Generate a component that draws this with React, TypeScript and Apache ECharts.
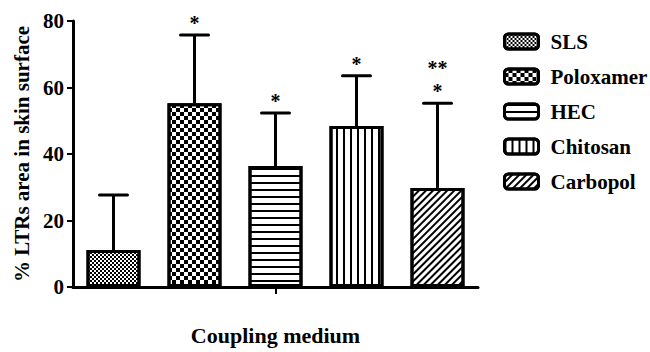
import React, { useEffect, useRef } from 'react';
import * as echarts from 'echarts';

const categories = ['SLS', 'Poloxamer', 'HEC', 'Chitosan', 'Carbopol'];
const means = [11.1, 55.3, 36.4, 48.4, 29.8];
const upperErrors = [27.7, 75.8, 52.3, 63.5, 55.3];
const sigFirst = ['', '*', '*', '*', '*'];
const sigSecond = ['', '', '', '', '**'];
const yMin = 0;
const yMax = 80;
const yInterval = 20;
const yName = '% LTRs area in skin surface';
const xName = 'Coupling medium';

const FONT = "'Liberation Serif', 'Times New Roman', serif";

const decals: any[] = [
  { symbol: 'rect', symbolSize: 1, dashArrayX: [[2, 2], [0, 2, 2, 0]], dashArrayY: [2, 0], color: '#000', backgroundColor: '#fff' },
  { symbol: 'rect', symbolSize: 1, dashArrayX: [[4, 4], [0, 4, 4, 0]], dashArrayY: [4, 0], color: '#000', backgroundColor: '#fff' },
  { symbol: 'rect', symbolSize: 1, dashArrayX: [1, 0], dashArrayY: [2, 5], color: '#000', backgroundColor: '#fff' },
  { symbol: 'rect', symbolSize: 1, dashArrayX: [2, 5], dashArrayY: [1, 0], color: '#000', backgroundColor: '#fff' },
  { symbol: 'rect', symbolSize: 1, dashArrayX: [1, 0], dashArrayY: [1.5, 3], rotation: -Math.PI / 4, color: '#000', backgroundColor: '#fff' },
];

export default function App() {
  const ref = useRef<HTMLDivElement>(null);
  useEffect(() => {
    if (!ref.current) return;
    const chart = echarts.init(ref.current, undefined, { renderer: 'svg' });
    const barSeries = categories.map((name, i) => ({
      name,
      type: 'bar',
      stack: 'all',
      barWidth: 54,
      data: categories.map((_, j) => (j === i ? means[i] : '-')),
      itemStyle: { color: '#fff', borderColor: '#000', borderWidth: 3, decal: decals[i] },
      z: 2,
    }));
    const errData = categories.map((_, i) => [i, means[i], upperErrors[i]]);
    const option: any = {
      animation: false,
      backgroundColor: '#fff',
      textStyle: { fontFamily: FONT },
      grid: { left: 73, right: 172, top: 21, bottom: 65, containLabel: false },
      legend: {
        data: categories,
        orient: 'vertical',
        left: 498,
        top: 26,
        itemWidth: 34,
        itemHeight: 15,
        itemGap: 14,
        icon: 'roundRect',
        itemStyle: { borderColor: '#000', borderWidth: 3 },
        textStyle: { fontFamily: FONT, fontWeight: 'bold', fontSize: 21, color: '#000', lineHeight: 16, padding: [0, 0, 0, 7] },
      },
      xAxis: [
        {
          type: 'category',
          data: categories,
          position: 'bottom',
          axisLine: { lineStyle: { color: '#000', width: 3 } },
          axisTick: { show: false },
          axisLabel: { show: false },
          name: xName,
          nameLocation: 'middle',
          nameGap: 37,
          nameTextStyle: { fontFamily: FONT, fontWeight: 'bold', fontSize: 22, color: '#000' },
        },
        {
          type: 'category',
          data: [''],
          position: 'bottom',
          axisLine: { show: false },
          axisTick: { show: true, alignWithLabel: true, length: 7, lineStyle: { color: '#000', width: 2 } },
          axisLabel: { show: false },
        },
      ],
      yAxis: {
        type: 'value',
        min: yMin,
        max: yMax,
        interval: yInterval,
        axisLine: { show: true, lineStyle: { color: '#000', width: 3 } },
        axisTick: { show: true, length: 6, lineStyle: { color: '#000', width: 2 } },
        splitLine: { show: false },
        axisLabel: { fontFamily: FONT, fontWeight: 'bold', fontSize: 21, color: '#000', margin: 9 },
        name: yName,
        nameLocation: 'middle',
        nameGap: 38,
        nameTextStyle: { fontFamily: FONT, fontWeight: 'bold', fontSize: 21, color: '#000' },
      },
      series: [
        ...barSeries,
        {
          type: 'custom',
          name: 'err',
          data: errData,
          encode: { x: 0, y: [1, 2] },
          z: 3,
          clip: false,
          renderItem: (params: any, api: any) => {
            const idx = api.value(0);
            const base = api.coord([idx, api.value(1)]);
            const top = api.coord([idx, api.value(2)]);
            const cx = base[0];
            const children: any[] = [
              { type: 'line', shape: { x1: cx, y1: base[1], x2: cx, y2: top[1] }, style: { stroke: '#000', lineWidth: 3 } },
              { type: 'line', shape: { x1: cx - 14, y1: top[1], x2: cx + 14, y2: top[1] }, style: { stroke: '#000', lineWidth: 3, lineCap: 'round' } },
            ];
            const s1 = sigFirst[idx];
            const s2 = sigSecond[idx];
            const ts = { fontFamily: FONT, fontWeight: 'bold', fontSize: 20, fill: '#000', align: 'center', verticalAlign: 'middle' };
            if (s1) children.push({ type: 'text', x: cx, y: top[1] - 12, style: { ...ts, text: s1 } });
            if (s2) children.push({ type: 'text', x: cx, y: top[1] - 35, style: { ...ts, text: s2 } });
            return { type: 'group', children };
          },
        },
      ],
    };
    chart.setOption(option);
    return () => chart.dispose();
  }, []);
  return <div ref={ref} style={{ position: 'fixed', left: 0, top: 0, width: 650, height: 352 }} />;
}
